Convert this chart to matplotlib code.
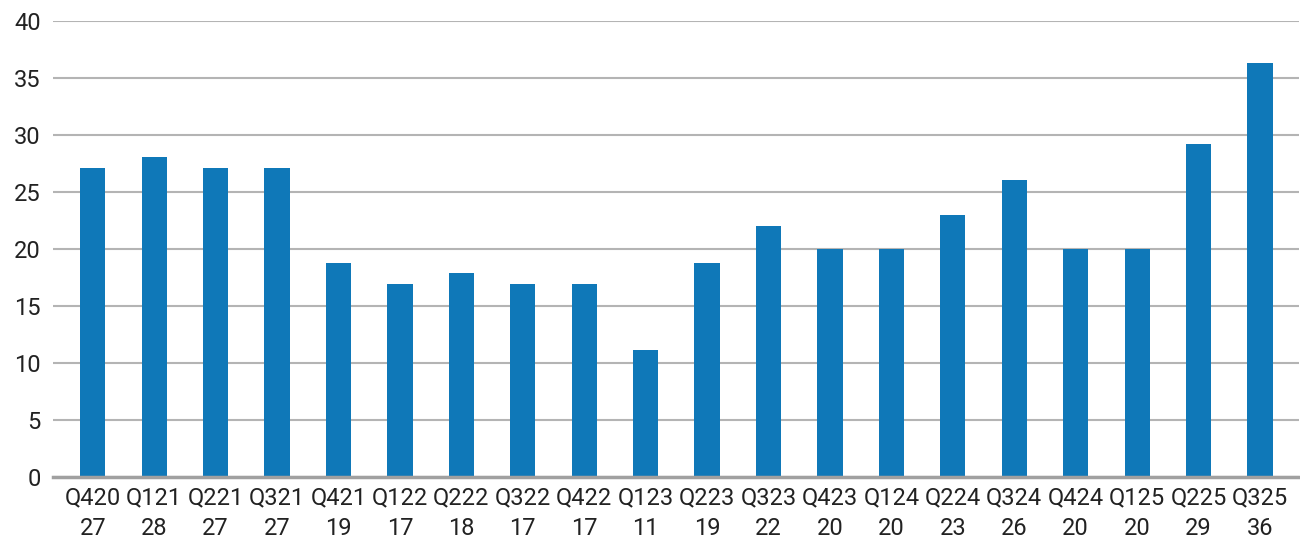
import matplotlib
matplotlib.use("Agg")
import matplotlib.pyplot as plt

quarters = ["Q420", "Q121", "Q221", "Q321", "Q421", "Q122", "Q222", "Q322", "Q422", "Q123",
            "Q223", "Q323", "Q423", "Q124", "Q224", "Q324", "Q424", "Q125", "Q225", "Q325"]
values = [27.1, 28.1, 27.1, 27.1, 18.8, 16.9, 17.9, 16.9, 16.9, 11.1,
          18.8, 22.0, 20.0, 20.0, 23.0, 26.1, 20.0, 20.0, 29.2, 36.3]
label_values = ["27", "28", "27", "27", "19", "17", "18", "17", "17", "11",
                "19", "22", "20", "20", "23", "26", "20", "20", "29", "36"]
yticks = [0, 5, 10, 15, 20, 25, 30, 35, 40]

plt.rcParams['font.family'] = ['Roboto', 'DejaVu Sans']

fig = plt.figure(figsize=(13, 5.42), dpi=100)
ax = fig.add_axes([0.041, 0.12, 0.958, 0.841])

x = list(range(len(quarters)))
ax.bar(x, values, width=0.41, color="#0F78B8", zorder=3)

ax.set_ylim(0, 40)
ax.set_xlim(-0.642, 19.63)
ax.set_yticks(yticks)
ax.set_yticklabels([str(t) for t in yticks])
ax.set_xticks(x)
ax.set_xticklabels([f"{q}\n{v}" for q, v in zip(quarters, label_values)], linespacing=1.4)

ax.grid(axis="y", color="#b4b4b4", linewidth=1.5, zorder=0)
ax.set_axisbelow(True)
for s in ["top", "right", "left"]:
    ax.spines[s].set_visible(False)
ax.spines["bottom"].set_color("#a0a0a0")
ax.spines["bottom"].set_linewidth(2.5)
ax.spines["bottom"].set_zorder(4)

ax.tick_params(axis="both", length=0, labelsize=17, colors="#222222")
ax.tick_params(axis="y", pad=9)
ax.tick_params(axis="x", pad=7)

fig.savefig("out.png", dpi=100)
